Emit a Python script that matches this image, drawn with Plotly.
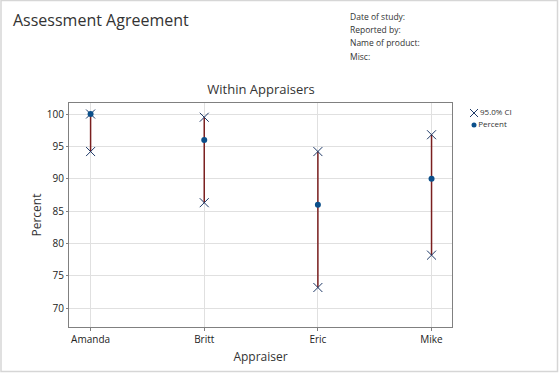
import plotly.graph_objects as go

appraisers = ["Amanda", "Britt", "Eric", "Mike"]
percent = [100.0, 96.0, 86.0, 90.0]
ci_lower = [94.2, 86.3, 73.2, 78.2]
ci_upper = [100.0, 99.5, 94.2, 96.8]
y_ticks = [70, 75, 80, 85, 90, 95, 100]
legend_names = ["95.0% CI", "Percent"]

FONT = "Open Sans, Noto Sans, sans-serif"
W, H = 559, 373

def px(x):
    return x / W

def py(y):
    return 1 - y / H

CI_COLOR = "#1f3a68"
PCT_COLOR = "#0b4f8a"

fig = go.Figure()

lx, ly = [], []
for a, lo, hi in zip(appraisers, ci_lower, ci_upper):
    lx += [a, a, None]
    ly += [lo, hi, None]
fig.add_trace(go.Scatter(x=lx, y=ly, mode="lines", line=dict(color="#7a1f1f", width=1.5),
                         showlegend=False, hoverinfo="skip"))

cx, cy = [], []
for a, lo, hi in zip(appraisers, ci_lower, ci_upper):
    cx += [a, a]
    cy += [lo, hi]
fig.add_trace(go.Scatter(x=cx, y=cy, mode="markers", name=legend_names[0], showlegend=False,
                         marker=dict(symbol="x-thin-open", size=9, color=CI_COLOR,
                                     line=dict(width=1, color=CI_COLOR))))
fig.add_trace(go.Scatter(x=appraisers, y=percent, mode="markers", name=legend_names[1],
                         showlegend=False,
                         marker=dict(symbol="circle", size=6, color=PCT_COLOR)))

# manual legend on its own small axes
fig.add_trace(go.Scatter(x=[0], y=[1], mode="markers+text", text=[legend_names[0]],
                         textposition="middle right", xaxis="x2", yaxis="y2",
                         showlegend=False, hoverinfo="skip", cliponaxis=False,
                         textfont=dict(size=8, color="#333"),
                         marker=dict(symbol="x-thin-open", size=8, color=CI_COLOR,
                                     line=dict(width=1, color=CI_COLOR))))
fig.add_trace(go.Scatter(x=[0], y=[0], mode="markers+text", text=[legend_names[1]],
                         textposition="middle right", xaxis="x2", yaxis="y2",
                         showlegend=False, hoverinfo="skip", cliponaxis=False,
                         textfont=dict(size=8, color="#333"),
                         marker=dict(symbol="circle", size=5, color=PCT_COLOR)))

fig.update_layout(
    width=W, height=H,
    margin=dict(l=0, r=0, t=0, b=0),
    paper_bgcolor="white", plot_bgcolor="white",
    font=dict(family=FONT, size=10, color="#222"),
    title=dict(text="Within Appraisers", x=px(261), xref="paper", xanchor="center",
               y=1 - 89 / H, yanchor="middle", font=dict(size=13, color="#333")),
    showlegend=False,
    xaxis=dict(domain=[px(69), px(452)], anchor="y", automargin=False,
               type="category", categoryorder="array", categoryarray=appraisers,
               range=[-0.19, 3.18], showgrid=True, gridcolor="#e0e0e0", gridwidth=1,
               showline=True, linecolor="#808080", linewidth=1, mirror=True,
               ticks="outside", ticklen=3, tickcolor="#808080",
               tickfont=dict(size=10, color="#222"), zeroline=False,
               title=dict(text="Appraiser", font=dict(size=12, color="#333"), standoff=7)),
    yaxis=dict(domain=[py(327), py(103)], anchor="x", automargin=False,
               range=[67.1, 101.7], tickvals=y_ticks, showgrid=True, gridcolor="#e0e0e0",
               showline=True, linecolor="#808080", linewidth=1, mirror=True,
               ticks="outside", ticklen=2, tickcolor="#808080",
               tickfont=dict(size=10, color="#222"), zeroline=False,
               title=dict(text="Percent", font=dict(size=12, color="#333"), standoff=2)),
    xaxis2=dict(domain=[px(470), px(478)], anchor="y2", range=[-1, 1], visible=False,
                fixedrange=True),
    yaxis2=dict(domain=[py(131), py(107)], anchor="x2", range=[-0.5, 1.5], visible=False,
                fixedrange=True),
)

# outer frame
fig.add_shape(type="rect", xref="paper", yref="paper",
              x0=px(1), x1=px(W - 1.5), y0=py(H - 1.5), y1=py(0.5),
              line=dict(color="#d6d6d6", width=1.5), fillcolor="rgba(0,0,0,0)", layer="below")

fig.add_annotation(text="Assessment Agreement", xref="paper", yref="paper",
                   x=px(11), y=py(20), xanchor="left", yanchor="middle", showarrow=False,
                   font=dict(size=16, color="#333", family=FONT))
for i, t in enumerate(["Date of study:", "Reported by:", "Name of product:", "Misc:"]):
    fig.add_annotation(text=t, xref="paper", yref="paper",
                       x=px(348), y=py(16 + i * 13.5), xanchor="left", yanchor="middle",
                       showarrow=False, font=dict(size=8.5, color="#333", family=FONT))

fig.write_html("out.html", config={"displayModeBar": False},
               post_script="document.body.style.margin='0';document.body.style.overflow='hidden';")
